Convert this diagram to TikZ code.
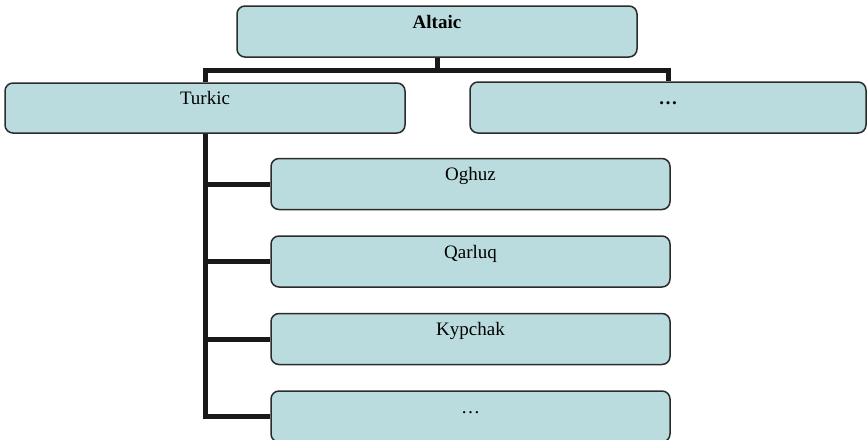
\documentclass[tikz,border=0pt]{standalone}
\usepackage{fontspec}
\setmainfont{Liberation Serif}
\usepackage{tikz}
\usetikzlibrary{positioning}
\definecolor{boxfill}{HTML}{BBDCDE}
\definecolor{boxline}{HTML}{2B2B2B}

\begin{document}
\begin{tikzpicture}[
    x=1pt,y=-1pt,
    box/.style={draw=boxline,line width=1.5pt,fill=boxfill,rounded corners=8pt,
                minimum height=51pt,text height=13pt,text depth=20pt,
                font=\fontsize{19}{23}\selectfont,inner sep=0pt},
    bus/.style={line width=5pt,draw=black!90}
  ]
  \useasboundingbox (0,0) rectangle (867,439);

  % Top level
  \node[box,minimum width=400pt] (altaic) at (437,31.5) {\textbf{Altaic}};
  \node[box,minimum width=400pt,minimum height=50pt] (turkic) at (205,108) {Turkic};
  \node[box,minimum width=396pt] (other) at (668,107.5) {\textbf{…}};

  % Turkic branches
  \node[box,minimum width=399pt] (oghuz) at (470.5,184) {Oghuz};
  \node[box,minimum width=399pt,below=25pt of oghuz] (qarluq) {Qarluq};
  \node[box,minimum width=399pt,below=25pt of qarluq] (kypchak) {Kypchak};
  \node[box,minimum width=399pt,below=25pt of kypchak] (rest) {…};

  % Connectors
  \draw[bus] (altaic.south) -- ++(0,13) -| (turkic.north);
  \draw[bus] (altaic.south) -- ++(0,13) -| (other.north);
  \foreach \n in {oghuz,qarluq,kypchak,rest}
    \draw[bus] (turkic.south) |- (\n.west);
\end{tikzpicture}
\end{document}
